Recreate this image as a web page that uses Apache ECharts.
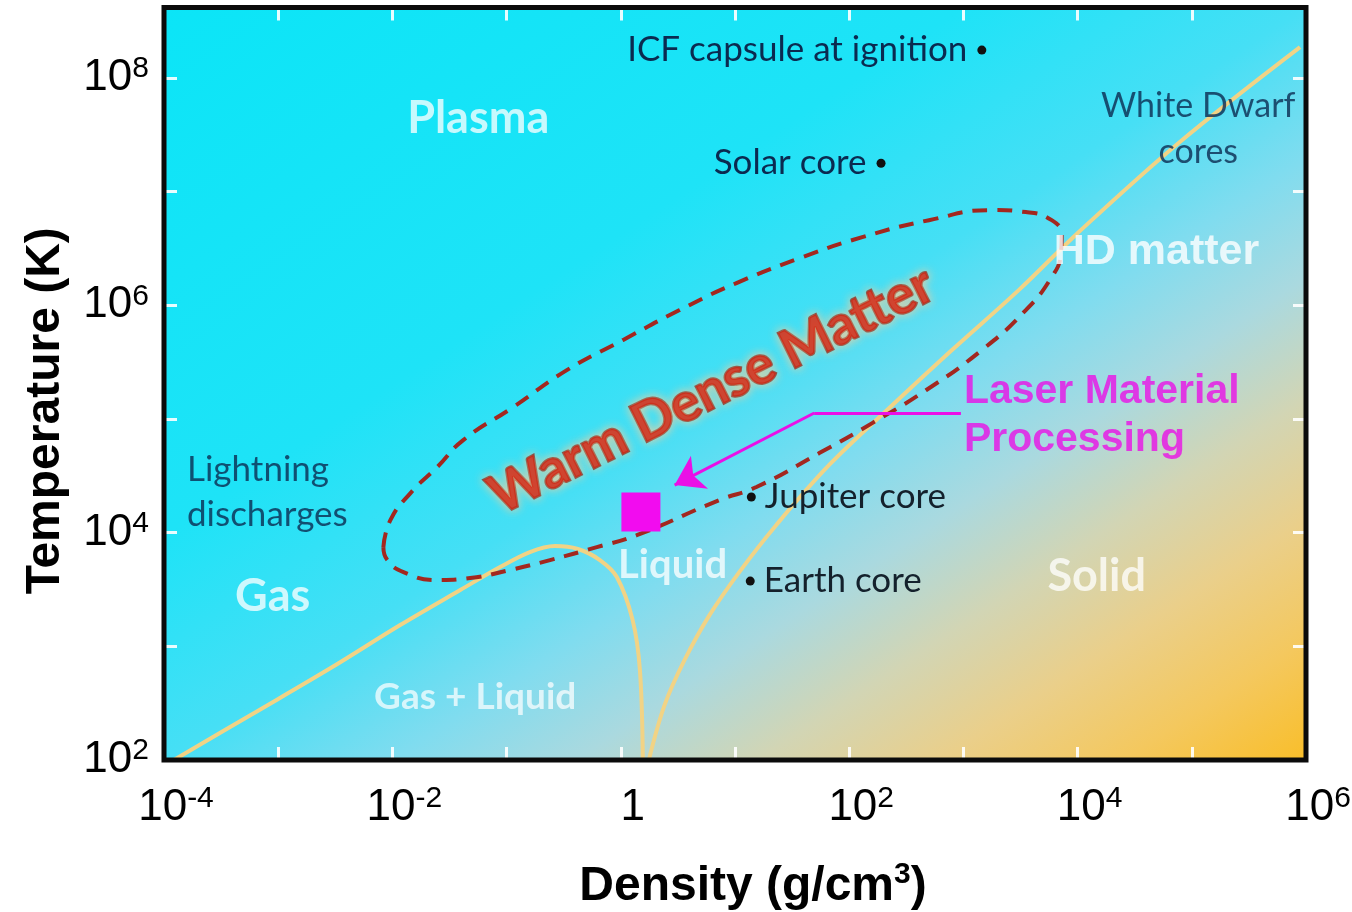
<!DOCTYPE html>
<html>
<head>
<meta charset="utf-8">
<title>Temperature–density phase diagram</title>
<script src="https://cdn.jsdelivr.net/npm/echarts@6/dist/echarts.min.js"></script>
<style>
  html, body { margin: 0; padding: 0; background: #ffffff; }
  #chart { width: 1352px; height: 912px; }
</style>
</head>
<body>
<div id="chart"></div>
<script>
// ---- Axis decades -------------------------------------------------------
const densityTicks = [1e-4, 1e-3, 1e-2, 1e-1, 1, 1e1, 1e2, 1e3, 1e4, 1e5, 1e6];
const densityLabels = [1e-4, 1e-2, 1, 1e2, 1e4, 1e6];
const temperatureTicks = [1e2, 1e3, 1e4, 1e5, 1e6, 1e7, 1e8];
const temperatureLabels = [1e2, 1e4, 1e6, 1e8];

// ---- Phase boundaries: [density (g/cm3), temperature (K)] ---------------
const gasLiquidBoundary = [
  [1.22e-4, 100], [5.75e-4, 249], [2.88e-3, 644], [1.17e-2, 1540],
  [3.93e-2, 3130], [8.77e-2, 4980], [0.160, 6750], [0.265, 7620],
  [0.421, 7180], [0.656, 5740], [0.923, 4070], [1.27, 1700],
  [1.47, 619], [1.56, 100]
];
const meltingLine = [
  [1.76, 100], [2.42, 305], [3.62, 759], [5.98, 1880], [10.9, 4500],
  [23.0, 1.17e4], [66.8, 3.94e4], [238, 1.32e5], [794, 4.04e5],
  [3.05e3, 1.36e6], [1.02e4, 4.40e6], [7.62e4, 2.67e7], [8.87e5, 1.87e8]
];
const warmDenseMatterRegion = [
  [8.34e-3, 7.46e3], [9.6e-3, 1.29e4], [1.44e-2, 2.23e4], [2.47e-2, 3.78e4],
  [4.17e-2, 6.52e4], [0.114, 1.27e5], [0.337, 2.69e5], [1.04, 4.94e5],
  [3.27, 9.08e5], [10.3, 1.57e6], [38.9, 2.65e6], [130, 3.98e6],
  [500, 5.61e6], [1.77e3, 6.88e6], [3.52e3, 6.61e6], [5.93e3, 5.61e6],
  [7.25e3, 4.14e6], [7.11e3, 2.76e6], [5.93e3, 1.77e6], [3.52e3, 9.08e5],
  [1.45e3, 4.04e5], [470, 1.79e5], [159, 9.2e4], [54.7, 5.01e4],
  [15.4, 2.52e4], [7.33, 1.94e4], [1.38, 9.5e3], [0.617, 7.46e3],
  [0.240, 5.74e3], [0.107, 4.69e3], [4.80e-2, 3.99e3], [2.47e-2, 3.83e3],
  [1.25e-2, 4.50e3], [9.04e-3, 5.74e3], [8.34e-3, 7.46e3]
];

// ---- Named states of matter ----------------------------------------------
const objectsLabelledLeft = [
  { name: 'ICF capsule at ignition', value: [1.45e3, 1.76e8] },
  { name: 'Solar core', value: [190, 1.78e7] }
];
const objectsLabelledRight = [
  { name: 'Jupiter core', value: [13.9, 2.06e4] },
  { name: 'Earth core', value: [13.6, 3.75e3] }
];
const laserProcessingPoint = [1.50, 1.52e4];
const laserArrowPath = [[951, 1.13e5], [49.4, 1.13e5], [2.96, 2.62e4]];

// ---- Region names and their anchors -------------------------------------
const phaseNames = [
  { name: 'Plasma', value: [5.64e-2, 4.43e7] },
  { name: 'Gas', value: [8.95e-4, 2.72e3] },
  { name: 'Solid', value: [1.47e4, 4150] }
];
const liquidName = [{ name: 'Liquid', value: [2.84, 5190] }];
const coexistenceName = [{ name: 'Gas + Liquid', value: [5.31e-2, 358] }];
const lightningNote = [{ name: 'Lightning\ndischarges', value: [1.59e-4, 2.28e4] }];
const whiteDwarfNote = [{ name: 'White Dwarf\ncores', value: [1.14e5, 3.55e7] }];
const hdMatterNote = [{ name: 'HD matter', value: [4.9e4, 2.94e6] }];
const laserNote = [{ name: 'Laser Material\nProcessing', value: [1.01e3, 1.06e5] }];
const wdmNote = [{ name: 'Warm Dense Matter', value: [6.24, 1.79e5] }];

// ---- Layout / style ------------------------------------------------------
const GRID = { left: 164, right: 46, top: 7.5, bottom: 152 };
const W = 1352, H = 912;
const ARIAL = '"Liberation Sans", Arial, Helvetica, sans-serif';
const CALIBRI = 'Lato, "Open Sans", sans-serif';
const NAVY = '#0b2a50';
const MAGENTA = '#ea10e6';
const TICK = { show: true, inside: true, length: 13, lineStyle: { color: 'rgba(255,255,255,0.9)', width: 3 } };

function decadeLabel(v) {
  const e = Math.round(Math.log10(v));
  return e === 0 ? '{b|1}' : '{b|10}{s|' + e + '}';
}
const tickRich = {
  b: { fontSize: 44, lineHeight: 48, fontFamily: ARIAL, color: '#000', verticalAlign: 'middle' },
  s: { fontSize: 30, lineHeight: 34, fontFamily: ARIAL, color: '#000', verticalAlign: 'top' }
};

const gridW = W - GRID.left - GRID.right;
const gridH = H - GRID.top - GRID.bottom;
// gradient runs perpendicular to the plot's anti-diagonal
const k = 2 * gridW * gridH / (gridW * gridW + gridH * gridH);

function textSeries(data, label, z) {
  return {
    type: 'scatter', z: z || 7, symbolSize: 0, data: data, silent: true,
    label: Object.assign({ show: true, position: 'inside', formatter: '{b}' }, label)
  };
}

const chart = echarts.init(document.getElementById('chart'), null, { renderer: 'canvas' });

chart.setOption({
  animation: false,
  backgroundColor: '#ffffff',
  grid: {
    left: GRID.left, right: GRID.right, top: GRID.top, bottom: GRID.bottom,
    show: true,
    borderWidth: 0,
    outerBoundsMode: 'none',
    containLabel: false,
    backgroundColor: {
      type: 'linear', x: 0, y: 0, x2: gridH * k / gridW, y2: gridW * k / gridH,
      colorStops: [
        { offset: 0.00, color: '#0be5f7' },
        { offset: 0.35, color: '#1ee3f7' },
        { offset: 0.50, color: '#46dff5' },
        { offset: 0.60, color: '#80dcef' },
        { offset: 0.68, color: '#aad9df' },
        { offset: 0.76, color: '#d2d5b4' },
        { offset: 0.84, color: '#eacf8a' },
        { offset: 0.92, color: '#f4c85e' },
        { offset: 1.00, color: '#f9be2a' }
      ]
    }
  },
  xAxis: [
    {
      type: 'log', logBase: 10, min: 1e-4, max: 1e6, position: 'bottom',
      name: 'Density (g/cm{sup|3})', nameLocation: 'middle', nameGap: 100,
      nameTextStyle: {
        fontSize: 48, lineHeight: 54, fontWeight: 'bold', fontFamily: ARIAL, color: '#000',
        padding: [0, 0, 0, 36],
        rich: { sup: { fontSize: 30, lineHeight: 36, fontWeight: 'bold', fontFamily: ARIAL, color: '#000', verticalAlign: 'top' } }
      },
      axisLine: { show: false },
      splitLine: { show: false },
      axisTick: Object.assign({ customValues: densityTicks }, TICK),
      axisLabel: {
        customValues: densityLabels, formatter: decadeLabel, rich: tickRich,
        margin: 24, padding: [0, 0, 0, 24]
      }
    },
    {
      type: 'log', logBase: 10, min: 1e-4, max: 1e6, position: 'top',
      axisLine: { show: false }, splitLine: { show: false },
      axisTick: Object.assign({ customValues: densityTicks }, TICK),
      axisLabel: { show: false }
    }
  ],
  yAxis: [
    {
      type: 'log', logBase: 10, min: 1e2, max: 4.17e8, position: 'left',
      name: 'Temperature (K)', nameLocation: 'middle', nameRotate: 90, nameGap: 94,
      nameTextStyle: { fontSize: 48, fontWeight: 'bold', fontFamily: ARIAL, color: '#000', padding: [0, 54, 0, 0] },
      axisLine: { show: false },
      splitLine: { show: false },
      axisTick: Object.assign({ customValues: temperatureTicks }, TICK),
      axisLabel: {
        customValues: temperatureLabels, formatter: decadeLabel, rich: tickRich,
        margin: 15
      }
    },
    {
      type: 'log', logBase: 10, min: 1e2, max: 4.17e8, position: 'right',
      axisLine: { show: false }, splitLine: { show: false },
      axisTick: Object.assign({ customValues: temperatureTicks }, TICK),
      axisLabel: { show: false }
    }
  ],
  graphic: [{
    type: 'rect', z: 100, silent: true,
    shape: { x: GRID.left, y: GRID.top, width: gridW, height: gridH },
    style: { fill: 'none', stroke: '#0b0b0b', lineWidth: 5 }
  }],
  series: [
    {
      type: 'line', name: 'gas-liquid', data: gasLiquidBoundary, smooth: 0.35,
      symbol: 'none', z: 2, silent: true,
      lineStyle: { color: '#f1d385', width: 4 }
    },
    {
      type: 'line', name: 'melting', data: meltingLine, smooth: 0.35,
      symbol: 'none', z: 2, silent: true,
      lineStyle: { color: '#f1d385', width: 4 }
    },
    {
      type: 'line', name: 'wdm', data: warmDenseMatterRegion, smooth: 0.5,
      symbol: 'none', z: 3, silent: true,
      lineStyle: { color: '#a3271f', width: 4, type: [15, 10] }
    },
    {
      type: 'lines', coordinateSystem: 'cartesian2d', z: 4, silent: true,
      symbol: 'none',
      lineStyle: { color: MAGENTA, width: 3, opacity: 1, curveness: 0 },
      data: [{ coords: [laserArrowPath[0], laserArrowPath[1]] }]
    },
    {
      type: 'lines', coordinateSystem: 'cartesian2d', z: 4, silent: true,
      symbol: ['none', 'arrow'], symbolSize: [0, 28],
      lineStyle: { color: MAGENTA, width: 3, opacity: 1, curveness: 0 },
      itemStyle: { color: MAGENTA, opacity: 1 },
      data: [{ coords: [laserArrowPath[1], laserArrowPath[2]] }]
    },
    {
      type: 'scatter', z: 5, symbol: 'rect', symbolSize: 39, silent: true,
      itemStyle: { color: '#f20cef', opacity: 1 },
      data: [laserProcessingPoint]
    },
    {
      type: 'scatter', z: 6, symbol: 'circle', symbolSize: 9, silent: true,
      itemStyle: { color: '#111', opacity: 1 },
      data: objectsLabelledLeft,
      label: { show: true, position: 'left', distance: 10, formatter: '{b}', color: NAVY, fontSize: 35, fontFamily: CALIBRI }
    },
    {
      type: 'scatter', z: 6, symbol: 'circle', symbolSize: 9, silent: true,
      itemStyle: { color: '#111', opacity: 1 },
      data: objectsLabelledRight,
      label: { show: true, position: 'right', distance: 9, formatter: '{b}', color: '#14212c', fontSize: 35, fontFamily: CALIBRI }
    },
    textSeries(phaseNames, { color: 'rgba(255,255,255,0.95)', fontSize: 45, fontWeight: 'bold', fontFamily: CALIBRI }),
    textSeries(liquidName, { color: 'rgba(255,255,255,0.95)', fontSize: 40, fontWeight: 'bold', fontFamily: CALIBRI }),
    textSeries(coexistenceName, { color: 'rgba(255,255,255,0.9)', fontSize: 37, fontWeight: 'bold', fontFamily: CALIBRI }),
    textSeries(lightningNote, { position: 'right', distance: 0, align: 'left', color: NAVY, fontSize: 35, lineHeight: 45, fontFamily: CALIBRI }),
    textSeries(whiteDwarfNote, { align: 'center', color: NAVY, fontSize: 34, lineHeight: 46, fontFamily: CALIBRI }),
    textSeries(hdMatterNote, { color: '#ffffff', fontSize: 43, fontWeight: 'bold', fontFamily: ARIAL }),
    textSeries(laserNote, { position: 'right', distance: 0, align: 'left', color: MAGENTA, fontSize: 41, lineHeight: 48, fontWeight: 'bold', fontFamily: ARIAL }),
    textSeries(wdmNote, {
      rotate: 26.5,
      color: '#d4200e', fontSize: 54, fontWeight: 'bold', fontFamily: CALIBRI,
      textBorderColor: '#7d150c', textBorderWidth: 2.5,
      textShadowColor: 'rgba(255,205,150,1)', textShadowBlur: 10
    })
  ]
});
</script>
</body>
</html>
